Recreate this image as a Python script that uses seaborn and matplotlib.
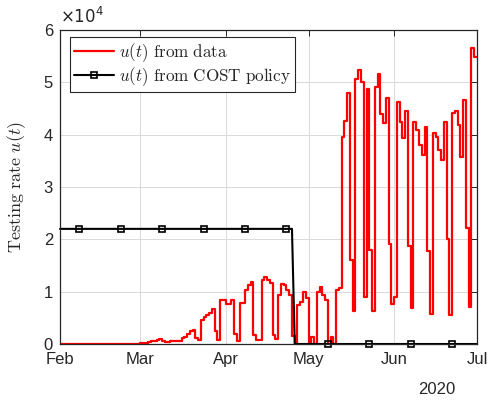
import numpy as np
import pandas as pd
import matplotlib
matplotlib.use("Agg")
import matplotlib.pyplot as plt
import matplotlib.dates as mdates
import seaborn as sns

# ---- data (testing rate in units of 1e4, one value per day) ----
start_date = "2020-02-01"
u_feb = [0.0] * 29
u_mar = [0.01, 0.02, 0.02, 0.03, 0.05, 0.06, 0.08, 0.09, 0.05, 0.04, 0.04,
         0.05, 0.05, 0.05, 0.06, 0.11, 0.14, 0.20, 0.25, 0.27, 0.11, 0.08,
         0.46, 0.52, 0.55, 0.60, 0.67, 0.24, 0.08, 0.84, 0.84]
u_apr = [0.77, 0.77, 0.84, 0.20, 0.05, 0.79, 0.79, 1.03, 1.12, 1.19, 0.18,
         0.08, 0.08, 1.23, 1.28, 1.23, 1.17, 0.18, 0.10, 0.93, 1.15, 1.13,
         1.03, 0.93, 0.16, 0.00, 0.74, 0.80, 1.00, 0.88]
u_may = [0.00, 0.13, 0.00, 1.00, 1.08, 0.94, 0.85, 0.00, 0.13, 0.00, 1.03,
         1.07, 3.95, 4.27, 4.80, 1.60, 0.64, 5.06, 5.23, 5.00, 0.90, 4.88,
         1.80, 0.64, 4.92, 5.15, 4.40, 4.22, 4.70, 1.91, 0.77]
u_jun = [0.90, 4.62, 4.25, 3.94, 4.45, 1.87, 0.68, 4.24, 4.08, 3.81, 3.62,
         4.14, 1.77, 0.57, 4.04, 3.95, 3.71, 3.51, 4.24, 2.00, 0.56, 4.41,
         4.45, 4.18, 3.57, 4.67, 2.22, 0.70, 5.66, 5.48]
cost_level = 2.2          # COST policy level (x1e4) before switch
cost_switch_day = 85      # first day index at which COST policy is 0
month_ticks = ["2020-02-01", "2020-03-01", "2020-04-01", "2020-05-01",
               "2020-06-01", "2020-07-01"]
y_ticks = [0, 1, 2, 3, 4, 5, 6]

u_data = np.array(u_feb + u_mar + u_apr + u_may + u_jun)
n_days = len(u_data)
dates = pd.date_range(start_date, periods=n_days + 1, freq="D")
u_step = np.append(u_data, u_data[-1])          # edge value for step end
u_cost = np.where(np.arange(n_days + 1) < cost_switch_day, cost_level, 0.0)

df = pd.DataFrame({"date": dates, "u_data": u_step, "u_cost": u_cost})

# ---- styling ----
sns.set_style("white")
plt.rcParams["font.family"] = ["Liberation Sans", "DejaVu Sans"]
plt.rcParams["mathtext.fontset"] = "cm"

fig = plt.figure(figsize=(4.95, 4.07), dpi=100)
ax = fig.add_axes([60 / 495, 1 - 344 / 407, 417 / 495, 314 / 407])

sns.lineplot(data=df, x="date", y="u_data", ax=ax, color="red", lw=1.6,
             drawstyle="steps-post", label=r"$u(t)\ \mathrm{from\ data}$")
sns.lineplot(data=df, x="date", y="u_cost", ax=ax, color="black", lw=1.5,
             marker="s", markevery=(7, 15), ms=5, mfc="none", mec="black",
             mew=1.2, clip_on=False,
             label=r"$u(t)\ \mathrm{from\ COST\ policy}$")

ax.set_xlim(pd.Timestamp(month_ticks[0]), pd.Timestamp(month_ticks[-1]))
ax.set_ylim(y_ticks[0], y_ticks[-1])
ax.set_xticks([pd.Timestamp(m) for m in month_ticks])
ax.xaxis.set_major_formatter(mdates.DateFormatter("%b"))
ax.set_yticks(y_ticks)
ax.set_yticklabels([str(t) for t in y_ticks])

ax.grid(True, color="#d9d9d9", lw=0.7)
ax.set_axisbelow(True)
for s in ax.spines.values():
    s.set_color("#262626")
    s.set_linewidth(0.9)
ax.tick_params(direction="in", length=4, width=0.7, colors="#262626",
               labelsize=12, top=True, right=True, pad=6)
ax.tick_params(axis="y", pad=5)

ax.set_xlabel("")
ax.set_ylabel(r"$\mathrm{Testing\ rate}\ u(t)$", fontsize=13, color="#262626")
ax.yaxis.set_label_coords(-0.077, 0.5)

ax.text(0.0, 1.012, r"$\times10^{4}$", transform=ax.transAxes, ha="left",
        va="bottom", fontsize=12, color="#262626", math_fontfamily="dejavusans")
ax.text(0.904, -0.145, "2020", transform=ax.transAxes, ha="center",
        va="center", fontsize=12, color="#262626")

leg = ax.legend(loc="upper left", bbox_to_anchor=(0.024, 0.978),
                borderaxespad=0, fontsize=12.3, handlelength=2.3,
                handletextpad=0.3, borderpad=0.25, labelspacing=0.08,
                fancybox=False, framealpha=1, edgecolor="#262626",
                numpoints=1)
leg.get_frame().set_linewidth(0.8)

fig.savefig("out.png", dpi=100)
